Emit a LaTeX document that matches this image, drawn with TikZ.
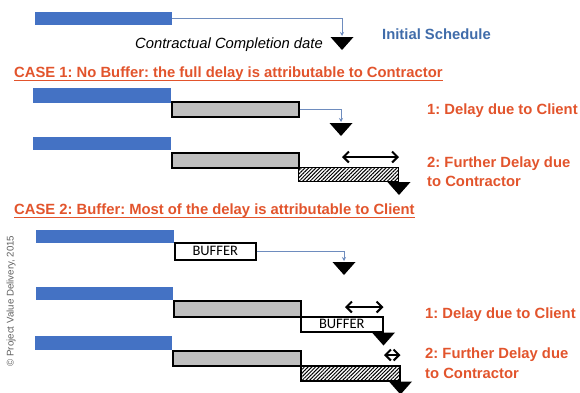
\documentclass[tikz,border=0pt]{standalone}
\usepackage{fontspec}
\setmainfont{Liberation Sans}
\newfontfamily\bufferfont{Carlito}
\usetikzlibrary{arrows.meta,patterns.meta}
\definecolor{barblue}{RGB}{68,114,196}
\definecolor{barfill}{RGB}{191,191,191}
\definecolor{connc}{RGB}{110,140,190}
\definecolor{redc}{RGB}{226,84,44}
\definecolor{titleblue}{RGB}{64,108,170}
\definecolor{copyc}{RGB}{95,95,95}
\frenchspacing
\begin{document}
\begin{tikzpicture}[x=1pt,y=-1pt,
  bluebar/.style={fill=barblue,draw=none,inner sep=0pt,anchor=north west},
  graybar/.style={fill=barfill,draw=black,line width=1.5pt,inner sep=0pt,anchor=north west},
  hatchbar/.style={draw=black,line width=1.5pt,inner sep=0pt,anchor=north west,
     pattern={Lines[angle=45,distance=2.6pt,line width=1pt]},pattern color=black},
  bufbar/.style={fill=white,draw=black,line width=1.5pt,inner sep=0pt,anchor=north west,
     font=\bufferfont\fontsize{14.5}{16}\selectfont},
  conn/.style={draw=connc,line width=0.8pt,-{Stealth[length=4pt,width=4pt]},shorten >=1pt},
  dbl/.style={draw=black,line width=2pt,{Straight Barb[length=5.5pt,width=11pt]}-{Straight Barb[length=5.5pt,width=11pt]}},
  heading/.style={inner sep=0pt,anchor=base west,text=redc,font=\bfseries\fontsize{14.8}{17}\selectfont},
  label/.style={inner sep=0pt,anchor=base west,text=redc,font=\bfseries\fontsize{14.8}{17}\selectfont},
  tri/.pic={\fill[black] (-11.5,0) -- (11.5,0) -- (0,13) -- cycle;}
]
\useasboundingbox (0,0) rectangle (580,392);

% ---- Initial schedule
\node[bluebar,minimum width=137pt,minimum height=13pt] (b0) at (35,12) {};
\coordinate (t0) at (342,37);
\draw[conn] (b0.east) -| (t0);
\pic at (t0) {tri};
\node[inner sep=0pt,anchor=base east,font=\itshape\fontsize{14.8}{17}\selectfont] (ccd) at (323,48) {Contractual Completion date};
\node[inner sep=0pt,anchor=base west,text=titleblue,font=\bfseries\fontsize{14.8}{17}\selectfont] (init) at (382,39) {Initial Schedule};

% ---- Case 1
\node[heading] (h1) at (14,77) {CASE 1: No Buffer: the full delay is attributable to Contractor};
\draw[redc,line width=1.3pt] ([yshift=-3.5pt]h1.base west) -- ([yshift=-3.5pt]h1.base east);

\node[bluebar,minimum width=138pt,minimum height=15pt] (b1) at (33,88) {};
\node[graybar,minimum width=127pt,minimum height=15pt] (g1) at (171,101) {};
\coordinate (t1) at (341,123);
\draw[conn] (g1.east) -| (t1);
\pic at (t1) {tri};
\node[label] (l1) at (427,114) {1: Delay due to Client};

\node[bluebar,minimum width=138pt,minimum height=13pt] (b2) at (33,137) {};
\node[graybar,minimum width=127pt,minimum height=15pt] (g2) at (171,152) {};
\node[hatchbar,minimum width=100pt,minimum height=14pt] (hb2) at (298,167) {};
\pic at (hb2.south east) {tri};
\coordinate (a2) at (342,157);
\draw[dbl] (a2) -- (a2 -| hb2.east);
\node[label] (l2a) at (427,167) {2: Further Delay due};
\node[label] (l2b) at (427,186) {to Contractor};

% ---- Case 2
\node[heading] (h2) at (14,214) {CASE 2: Buffer: Most of the delay is attributable to Client};
\draw[redc,line width=1.3pt] ([yshift=-3.5pt]h2.base west) -- ([yshift=-3.5pt]h2.base east);

\node[bluebar,minimum width=138pt,minimum height=13pt] (b3) at (36,230) {};
\node[bufbar,minimum width=81pt,minimum height=17pt] (u3) at (174,242) {BUFFER};
\coordinate (t3) at (344,262);
\draw[conn] (u3.east) -| (t3);
\pic at (t3) {tri};

\node[bluebar,minimum width=137pt,minimum height=13pt] (b4) at (36,287) {};
\node[graybar,minimum width=127pt,minimum height=16pt] (g4) at (173,300) {};
\node[bufbar,minimum width=82pt,minimum height=15pt] (u4) at (300,316) {BUFFER};
\pic at (u4.south east) {tri};
\coordinate (a4) at (345,307);
\draw[dbl] (a4) -- (a4 -| u4.east);
\node[label] (l4) at (425,318) {1: Delay due to Client};

\node[bluebar,minimum width=137pt,minimum height=14pt] (b5) at (35,336) {};
\node[graybar,minimum width=128pt,minimum height=15pt] (g5) at (172,350) {};
\node[hatchbar,minimum width=99pt,minimum height=15pt] (hb5) at (300,365) {};
\pic at (hb5.south east) {tri};
\coordinate (a5) at (384,355);
\draw[dbl] (a5) -- (a5 -| hb5.east);
\node[label] (l5a) at (425,358) {2: Further Delay due};
\node[label] (l5b) at (425,378) {to Contractor};

% ---- copyright
\node[rotate=90,inner sep=0pt,text=copyc,font=\fontsize{9.7}{11}\selectfont] (copy) at (11,301) {© Project Value Delivery, 2015};
\end{tikzpicture}
\end{document}
